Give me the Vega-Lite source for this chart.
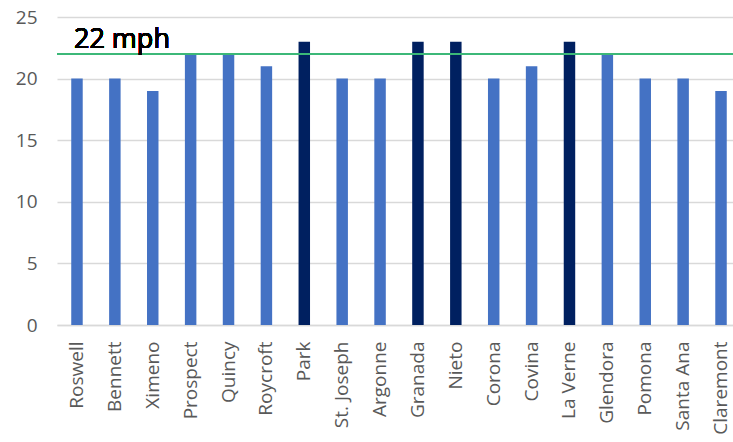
{
  "$schema": "https://vega.github.io/schema/vega-lite/v6.json",
  "autosize": "none",
  "width": 684,
  "height": 308,
  "padding": {"left": 57, "top": 17, "right": 0, "bottom": 117},
  "background": "white",
  "config": {
    "view": {"stroke": null},
    "font": "Open Sans",
    "axis": {"labelFont": "Open Sans", "labelColor": "#595959", "labelFontSize": 19}
  },
  "data": {
    "values": [
      {"street": "Roswell", "speed": 20},
      {"street": "Bennett", "speed": 20},
      {"street": "Ximeno", "speed": 19},
      {"street": "Prospect", "speed": 22},
      {"street": "Quincy", "speed": 22},
      {"street": "Roycroft", "speed": 21},
      {"street": "Park", "speed": 23},
      {"street": "St. Joseph", "speed": 20},
      {"street": "Argonne", "speed": 20},
      {"street": "Granada", "speed": 23},
      {"street": "Nieto", "speed": 23},
      {"street": "Corona", "speed": 20},
      {"street": "Covina", "speed": 21},
      {"street": "La Verne", "speed": 23},
      {"street": "Glendora", "speed": 22},
      {"street": "Pomona", "speed": 20},
      {"street": "Santa Ana", "speed": 20},
      {"street": "Claremont", "speed": 19}
    ]
  },
  "layer": [
    {
      "mark": {"type": "bar"},
      "encoding": {
        "x": {
          "field": "street", "type": "nominal", "sort": null,
          "scale": {"paddingInner": 0.697, "paddingOuter": 0.376},
          "axis": {"title": null, "labelAngle": -90, "ticks": false, "domainColor": "#d9d9d9", "domainWidth": 1.5, "labelPadding": 16}
        },
        "y": {
          "field": "speed", "type": "quantitative",
          "scale": {"domain": [0, 25], "nice": false},
          "axis": {"title": null, "values": [0, 5, 10, 15, 20, 25], "ticks": false, "domain": false, "gridColor": "#d9d9d9", "gridWidth": 1.5, "labelPadding": 20}
        },
        "color": {
          "condition": {"test": "datum.speed > 22", "value": "#002060"},
          "value": "#4472C4"
        }
      }
    },
    {
      "mark": {"type": "rule", "color": "#3cb878", "strokeWidth": 1.2},
      "encoding": {"y": {"datum": 22}}
    },
    {
      "mark": {"type": "text", "text": "22 mph", "align": "left", "baseline": "alphabetic", "fontSize": 27, "fill": "black", "dx": -3, "dy": -6},
      "encoding": {
        "x": {"datum": "Roswell", "type": "nominal"},
        "y": {"datum": 22}
      }
    }
  ]
}
